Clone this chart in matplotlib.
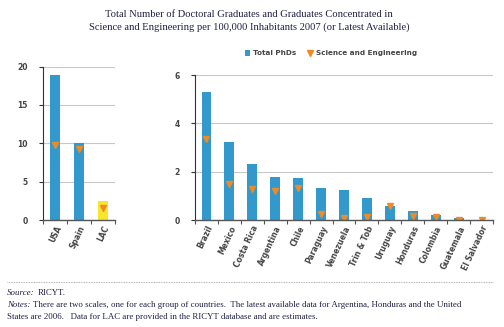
import numpy as np
import matplotlib.pyplot as plt

# left group (scale 0-20)
left_countries = ["USA", "Spain", "LAC"]
left_phd = [18.9, 10.0, 2.5]
left_se = [9.8, 9.3, 1.6]

# right group (scale 0-6)
right_countries = ["Brazil", "Mexico", "Costa Rica", "Argentina", "Chile", "Paraguay",
                   "Venezuela", "Trin & Tob", "Uruguay", "Honduras", "Colombia",
                   "Guatemala", "El Salvador"]
right_phd = [5.28, 3.21, 2.30, 1.77, 1.73, 1.31, 1.23, 0.90, 0.57, 0.37, 0.21, 0.07, 0.02]
right_se = [3.35, 1.47, 1.28, 1.20, 1.32, 0.24, 0.07, 0.14, 0.57, 0.18, 0.14, 0.0, 0.0]

blue = '#3399cc'
orange = '#f08a24'
yellow = '#f7e62a'
txt = '#444444'
navy = '#1f1f45'

fig = plt.figure(figsize=(5.04, 3.27), dpi=100)

def style(ax, ymax, step, n):
    ax.set_xlim(-0.5, n - 0.5)
    ax.set_ylim(0, ymax)
    ax.set_yticks(np.arange(0, ymax + 0.01, step))
    ax.yaxis.grid(True, color='#c8c8c8', lw=0.8)
    ax.set_axisbelow(True)
    for s in ['top', 'right']:
        ax.spines[s].set_visible(False)
    ax.spines['left'].set_color('#333333')
    ax.spines['bottom'].set_color('#555555')
    ax.spines['left'].set_linewidth(0.8)
    ax.spines['bottom'].set_linewidth(1.0)
    # ticks between categories
    ax.set_xticks(np.arange(-0.5, n, 1.0), minor=False)
    ax.set_xticklabels([])
    ax.set_xticks(np.arange(n), minor=True)
    ax.tick_params(axis='x', which='major', length=3, color='#555555', width=0.8)
    ax.tick_params(axis='x', which='minor', length=0, pad=3)
    ax.tick_params(axis='y', length=3, width=0.8, color='#333333', pad=8)
    for lab in ax.get_yticklabels():
        lab.set_fontsize(5.5)
        lab.set_fontweight('bold')
        lab.set_color(txt)

axl = fig.add_axes([0.0853, 0.3272, 0.1429, 0.469])
colors_l = [blue, blue, yellow]
axl.bar(range(len(left_countries)), left_phd, width=0.43, color=colors_l)
axl.plot(range(len(left_countries)), left_se, 'v', color=orange, ms=5, ls='none')
style(axl, 20, 5, len(left_countries))
axl.set_xticklabels(left_countries, minor=True, rotation=65, ha='right',
                    rotation_mode='anchor', fontsize=5.5, fontweight='bold', color=txt)

axr = fig.add_axes([0.3869, 0.3272, 0.5913, 0.4434])
b = axr.bar(range(len(right_countries)), right_phd, width=0.43, color=blue)
m, = axr.plot(range(len(right_countries)), right_se, 'v', color=orange, ms=5, ls='none')
style(axr, 6, 2, len(right_countries))
axr.set_xticklabels(right_countries, minor=True, rotation=65, ha='right',
                    rotation_mode='anchor', fontsize=5.5, fontweight='bold', color=txt)

leg = axr.legend([b, m], ['Total PhDs', 'Science and Engineering'],
                 loc='center', bbox_to_anchor=(0.456, 1.15), ncol=2, frameon=False,
                 fontsize=5.2, handlelength=0.8, handleheight=0.8, handletextpad=0.4,
                 columnspacing=1.5, borderaxespad=0)
for t in leg.get_texts():
    t.set_fontweight('bold')
    t.set_color(txt)

fig.text(0.494, 0.957, "Total Number of Doctoral Graduates and Graduates Concentrated in",
         ha='center', va='center', family='Liberation Serif', fontsize=7.6, color=navy)
fig.text(0.494, 0.918, "Science and Engineering per 100,000 Inhabitants 2007 (or Latest Available)",
         ha='center', va='center', family='Liberation Serif', fontsize=7.6, color=navy)

fig.add_artist(plt.Line2D([0.014, 0.978], [0.138, 0.138], color='#999999', lw=0.6,
                          ls=(0, (1, 1))))

def mixed(x, y, italic, normal):
    t = fig.text(x, y, italic, family='Liberation Serif', style='italic', fontsize=6.4,
                 color=navy, va='baseline')
    plt.annotate(normal, xy=(1, 0), xycoords=t, xytext=(2, 0), textcoords='offset points',
                 family='Liberation Serif', fontsize=6.4, color=navy, va='bottom',
                 annotation_clip=False)
    return t

mixed(0.014, 0.097, "Source:", "RICYT.")
mixed(0.014, 0.062, "Notes:", "There are two scales, one for each group of countries.  The latest available data for Argentina, Honduras and the United")
fig.text(0.014, 0.025, "States are 2006.   Data for LAC are provided in the RICYT database and are estimates.",
         family='Liberation Serif', fontsize=6.4, color=navy, va='baseline')

fig.savefig('out.png', dpi=100)
